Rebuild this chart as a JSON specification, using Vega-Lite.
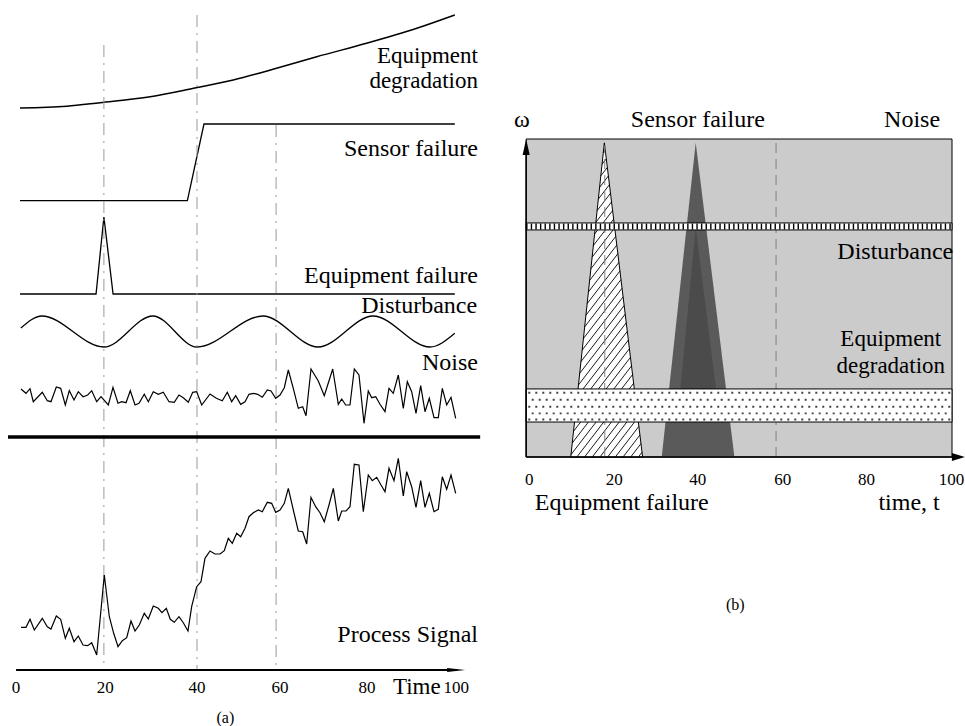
{
 "$schema": "https://vega.github.io/schema/vega-lite/v6.json",
 "padding": 0,
 "spacing": 0,
 "bounds": "flush",
 "background": "white",
 "config": {"view": {"stroke": null}, "text": {"font": "Liberation Serif", "fontSize": 24, "fill": "black"}},
 "datasets": {
  "deg": [{"t":0,"v":0},{"t":10.7,"v":1.7},{"t":18.3,"v":5.3},{"t":29.8,"v":11.3},{"t":39.7,"v":19.7},{"t":48.8,"v":28},{"t":58.7,"v":39.7},{"t":67.9,"v":51.3},{"t":79.3,"v":64.7},{"t":90.8,"v":79.7},{"t":99.5,"v":93}],
  "sensor": [{"t":0,"v":0},{"t":38.3,"v":0},{"t":42.1,"v":1},{"t":99.5,"v":1}],
  "efail": [{"t":0,"v":0},{"t":17.4,"v":0},{"t":19.2,"v":1},{"t":21.3,"v":0},{"t":99.5,"v":0}],
  "dist": [{"t":0.2,"v":3.5},{"t":5.0,"v":15.5},{"t":19.2,"v":-15.5},{"t":30.4,"v":15.5},{"t":40.5,"v":-15.5},{"t":55.6,"v":15.5},{"t":68.2,"v":-15.5},{"t":80.8,"v":15.5},{"t":93.8,"v":-15.5},{"t":99.5,"v":-1.8}],
  "noise": [{"t":0.23,"v":8},{"t":1.37,"v":3.7},{"t":2.29,"v":8.3},{"t":3.04,"v":-4.7},{"t":5.1,"v":4.7},{"t":6.25,"v":-3.7},{"t":7.09,"v":-4.7},{"t":8.31,"v":10},{"t":9.31,"v":8.7},{"t":10.37,"v":-8},{"t":11.28,"v":6.3},{"t":12.36,"v":-3},{"t":13.34,"v":5.3},{"t":14.42,"v":0.3},{"t":15.49,"v":2},{"t":16.41,"v":6.3},{"t":17.55,"v":-4.7},{"t":18.54,"v":0.3},{"t":20.21,"v":-8},{"t":21.28,"v":9.7},{"t":22.43,"v":-6.3},{"t":23.27,"v":-4.7},{"t":24.26,"v":-5.7},{"t":25.24,"v":6.3},{"t":26.32,"v":-8},{"t":27.23,"v":-6.3},{"t":28.44,"v":2.7},{"t":29.36,"v":-4.7},{"t":30.5,"v":5.3},{"t":31.65,"v":2.7},{"t":32.79,"v":4.7},{"t":34.1,"v":-4.7},{"t":35.3,"v":-5.3},{"t":36.38,"v":2},{"t":37.37,"v":-0.7},{"t":38.51,"v":-5.3},{"t":39.52,"v":4.7},{"t":40.43,"v":5.3},{"t":41.58,"v":-8},{"t":43.48,"v":3},{"t":44.92,"v":-1.3},{"t":46.29,"v":-3.7},{"t":47.44,"v":4.7},{"t":48.44,"v":-4.7},{"t":49.36,"v":1.3},{"t":50.5,"v":-7.3},{"t":51.49,"v":-4.7},{"t":52.4,"v":2.7},{"t":53.39,"v":3.7},{"t":54.39,"v":2.7},{"t":55.45,"v":-0.3},{"t":56.59,"v":7},{"t":57.44,"v":6},{"t":58.51,"v":-1.3},{"t":59.5,"v":2},{"t":60.48,"v":9.3},{"t":61.4,"v":27},{"t":62.54,"v":8.7},{"t":63.68,"v":-11.3},{"t":64.69,"v":-9.7},{"t":65.45,"v":-18.7},{"t":66.59,"v":28},{"t":68.26,"v":16},{"t":69.63,"v":1.3},{"t":71.56,"v":28},{"t":72.84,"v":-7.3},{"t":73.62,"v":-2},{"t":74.53,"v":-8},{"t":75.51,"v":-8},{"t":76.5,"v":28},{"t":77.57,"v":22},{"t":78.72,"v":-26.3},{"t":79.7,"v":6},{"t":80.48,"v":-0.7},{"t":81.4,"v":0.3},{"t":82.38,"v":-7.3},{"t":83.52,"v":-14.7},{"t":84.44,"v":8.7},{"t":85.42,"v":3.7},{"t":86.57,"v":22},{"t":87.71,"v":-11.3},{"t":88.63,"v":15.3},{"t":89.63,"v":5.3},{"t":90.62,"v":-16.3},{"t":91.69,"v":11.3},{"t":92.68,"v":-14.7},{"t":93.66,"v":-1.3},{"t":94.74,"v":-20.7},{"t":95.72,"v":-20.7},{"t":96.64,"v":8.7},{"t":97.64,"v":-8},{"t":98.63,"v":-0.3},{"t":99.7,"v":-21.3}],
  "proc": [{"t":0.23,"v":42.7},{"t":1.37,"v":42.7},{"t":2.29,"v":50.7},{"t":3.28,"v":40},{"t":5.1,"v":51.7},{"t":6.25,"v":43.3},{"t":7.09,"v":41},{"t":8.31,"v":54},{"t":9.31,"v":50.7},{"t":10.37,"v":31.7},{"t":11.28,"v":41.7},{"t":12.36,"v":28.3},{"t":13.34,"v":34},{"t":14.42,"v":25},{"t":15.49,"v":24.3},{"t":16.41,"v":27.3},{"t":17.55,"v":15},{"t":19.29,"v":95},{"t":20.44,"v":53.3},{"t":21.44,"v":36.7},{"t":22.43,"v":23.3},{"t":23.41,"v":29.3},{"t":24.42,"v":32.3},{"t":25.4,"v":49},{"t":26.32,"v":39},{"t":27.3,"v":45},{"t":28.44,"v":56.7},{"t":29.36,"v":51},{"t":30.5,"v":64},{"t":31.65,"v":61.7},{"t":32.49,"v":57.3},{"t":33.48,"v":61.7},{"t":34.39,"v":50.7},{"t":35.3,"v":47.7},{"t":36.38,"v":53.3},{"t":37.37,"v":47.3},{"t":38.44,"v":39},{"t":39.28,"v":63.3},{"t":40.43,"v":83.3},{"t":41.42,"v":88.3},{"t":42.33,"v":111.7},{"t":43.48,"v":119},{"t":44.62,"v":116},{"t":45.77,"v":116},{"t":46.75,"v":119.3},{"t":47.67,"v":131.7},{"t":48.58,"v":126.7},{"t":49.59,"v":136.7},{"t":50.5,"v":133.3},{"t":51.49,"v":141.7},{"t":52.4,"v":153.3},{"t":53.39,"v":157.3},{"t":54.53,"v":160},{"t":55.45,"v":158.3},{"t":56.59,"v":167.7},{"t":57.59,"v":166.7},{"t":58.51,"v":157.7},{"t":59.5,"v":160},{"t":60.48,"v":166.7},{"t":61.4,"v":181.7},{"t":62.54,"v":160},{"t":63.68,"v":139},{"t":64.69,"v":138.3},{"t":65.6,"v":126},{"t":66.59,"v":172.7},{"t":67.66,"v":163.3},{"t":68.65,"v":157.3},{"t":69.63,"v":148.3},{"t":70.71,"v":165},{"t":71.7,"v":181.7},{"t":72.84,"v":149},{"t":73.62,"v":159},{"t":74.6,"v":159},{"t":75.51,"v":163.3},{"t":76.5,"v":205.7},{"t":77.57,"v":205},{"t":78.56,"v":158.3},{"t":79.7,"v":195},{"t":80.62,"v":189.3},{"t":81.62,"v":192.7},{"t":82.61,"v":185},{"t":83.52,"v":178.3},{"t":84.44,"v":201.7},{"t":85.58,"v":189.3},{"t":86.57,"v":211.7},{"t":87.71,"v":174},{"t":88.49,"v":198.3},{"t":89.63,"v":183.3},{"t":90.62,"v":162.7},{"t":91.69,"v":189.3},{"t":92.68,"v":162.7},{"t":93.66,"v":176.7},{"t":94.74,"v":158.3},{"t":95.72,"v":160.7},{"t":96.64,"v":193.3},{"t":97.64,"v":180.7},{"t":98.63,"v":195},{"t":99.7,"v":176.7}],
  "hatch": [{"t1":17.94,"w1":95.69,"t2":18.40,"w2":96.50},{"t1":17.65,"w1":92.04,"t2":18.65,"w2":93.79},{"t1":17.36,"w1":88.39,"t2":18.90,"w2":91.07},{"t1":17.06,"w1":84.73,"t2":19.14,"w2":88.36},{"t1":16.77,"w1":81.08,"t2":19.39,"w2":85.64},{"t1":16.48,"w1":77.43,"t2":19.64,"w2":82.93},{"t1":16.19,"w1":73.78,"t2":19.89,"w2":80.22},{"t1":15.90,"w1":70.13,"t2":20.14,"w2":77.50},{"t1":15.60,"w1":66.47,"t2":20.38,"w2":74.79},{"t1":15.31,"w1":62.82,"t2":20.63,"w2":72.07},{"t1":15.02,"w1":59.17,"t2":20.88,"w2":69.36},{"t1":14.73,"w1":55.52,"t2":21.13,"w2":66.65},{"t1":14.43,"w1":51.87,"t2":21.38,"w2":63.93},{"t1":14.14,"w1":48.22,"t2":21.63,"w2":61.22},{"t1":13.85,"w1":44.56,"t2":21.87,"w2":58.50},{"t1":13.56,"w1":40.91,"t2":22.12,"w2":55.79},{"t1":13.27,"w1":37.26,"t2":22.37,"w2":53.08},{"t1":12.97,"w1":33.61,"t2":22.62,"w2":50.36},{"t1":12.68,"w1":29.96,"t2":22.87,"w2":47.65},{"t1":12.39,"w1":26.30,"t2":23.11,"w2":44.93},{"t1":12.10,"w1":22.65,"t2":23.36,"w2":42.22},{"t1":11.81,"w1":19.00,"t2":23.61,"w2":39.51},{"t1":11.51,"w1":15.35,"t2":23.86,"w2":36.79},{"t1":11.22,"w1":11.70,"t2":24.11,"w2":34.08},{"t1":10.93,"w1":8.04,"t2":24.35,"w2":31.36},{"t1":10.64,"w1":4.39,"t2":24.60,"w2":28.65},{"t1":10.35,"w1":0.74,"t2":24.85,"w2":25.94},{"t1":11.73,"w1":0,"t2":25.10,"w2":23.22},{"t1":13.54,"w1":0,"t2":25.35,"w2":20.51},{"t1":15.35,"w1":0,"t2":25.59,"w2":17.79},{"t1":17.16,"w1":0,"t2":25.84,"w2":15.08},{"t1":18.97,"w1":0,"t2":26.09,"w2":12.37},{"t1":20.78,"w1":0,"t2":26.34,"w2":9.65},{"t1":22.59,"w1":0,"t2":26.59,"w2":6.94},{"t1":24.40,"w1":0,"t2":26.83,"w2":4.22},{"t1":26.21,"w1":0,"t2":27.08,"w2":1.51}]
 },
 "hconcat": [
  {
   "width": 490, "height": 726,
   "resolve": {"scale": {"y": "independent"}},
   "layer": [
    {"layer": [
      {"data": {"name": "deg"}, "mark": {"type": "line", "interpolate": "monotone", "strokeWidth": 1.5, "color": "black"},
       "encoding": {"x": {"field": "t", "type": "quantitative", "scale": {"domain": [0,100], "range": [20,457], "nice": false, "zero": false}, "axis": null},
                    "y": {"field": "v", "type": "quantitative", "scale": {"domain": [0,100], "range": [108,8], "nice": false, "zero": false}, "axis": null}}},
      {"data": {"values": [{"t": 104.8, "v": 45.5, "label": "Equipment"}, {"t": 104.8, "v": 20.5, "label": "degradation"}]},
       "mark": {"type": "text", "align": "right", "baseline": "alphabetic", "font": "Liberation Serif", "fontSize": 23},
       "encoding": {"x": {"field": "t", "type": "quantitative", "scale": {"domain": [0,100], "range": [20,457], "nice": false, "zero": false}, "axis": null},
                    "y": {"field": "v", "type": "quantitative", "scale": {"domain": [0,100], "range": [108,8], "nice": false, "zero": false}, "axis": null},
                    "text": {"field": "label"}}}
    ]},
    {"layer": [
      {"data": {"name": "sensor"}, "mark": {"type": "line", "strokeWidth": 1.3, "color": "black"},
       "encoding": {"x": {"field": "t", "type": "quantitative", "scale": {"domain": [0,100], "range": [20,457], "nice": false, "zero": false}, "axis": null},
                    "y": {"field": "v", "type": "quantitative", "scale": {"domain": [0,1], "range": [200.7,124], "nice": false, "zero": false}, "axis": null}}},
      {"data": {"values": [{"t": 104.8, "v": 0.583, "label": "Sensor failure"}]},
       "mark": {"type": "text", "align": "right", "baseline": "alphabetic", "font": "Liberation Serif", "fontSize": 24},
       "encoding": {"x": {"field": "t", "type": "quantitative", "scale": {"domain": [0,100], "range": [20,457], "nice": false, "zero": false}, "axis": null},
                    "y": {"field": "v", "type": "quantitative", "scale": {"domain": [0,1], "range": [200.7,124], "nice": false, "zero": false}, "axis": null},
                    "text": {"field": "label"}}}
    ]},
    {"layer": [
      {"data": {"name": "efail"}, "mark": {"type": "line", "strokeWidth": 1.3, "color": "black"},
       "encoding": {"x": {"field": "t", "type": "quantitative", "scale": {"domain": [0,100], "range": [20,457], "nice": false, "zero": false}, "axis": null},
                    "y": {"field": "v", "type": "quantitative", "scale": {"domain": [0,1], "range": [294,217], "nice": false, "zero": false}, "axis": null}}},
      {"data": {"values": [{"t": 104.8, "v": 0.147, "label": "Equipment failure"}]},
       "mark": {"type": "text", "align": "right", "baseline": "alphabetic", "font": "Liberation Serif", "fontSize": 24},
       "encoding": {"x": {"field": "t", "type": "quantitative", "scale": {"domain": [0,100], "range": [20,457], "nice": false, "zero": false}, "axis": null},
                    "y": {"field": "v", "type": "quantitative", "scale": {"domain": [0,1], "range": [294,217], "nice": false, "zero": false}, "axis": null},
                    "text": {"field": "label"}}}
    ]},
    {"layer": [
      {"data": {"name": "dist"}, "mark": {"type": "line", "interpolate": "monotone", "strokeWidth": 1.3, "color": "black"},
       "encoding": {"x": {"field": "t", "type": "quantitative", "scale": {"domain": [0,100], "range": [20,457], "nice": false, "zero": false}, "axis": null},
                    "y": {"field": "v", "type": "quantitative", "scale": {"domain": [-40,40], "range": [371.5,291.5], "nice": false, "zero": false}, "axis": null}}},
      {"data": {"values": [{"t": 104.6, "v": 18.2, "label": "Disturbance"}]},
       "mark": {"type": "text", "align": "right", "baseline": "alphabetic", "font": "Liberation Serif", "fontSize": 24},
       "encoding": {"x": {"field": "t", "type": "quantitative", "scale": {"domain": [0,100], "range": [20,457], "nice": false, "zero": false}, "axis": null},
                    "y": {"field": "v", "type": "quantitative", "scale": {"domain": [-40,40], "range": [371.5,291.5], "nice": false, "zero": false}, "axis": null},
                    "text": {"field": "label"}}}
    ]},
    {"layer": [
      {"data": {"name": "noise"}, "mark": {"type": "line", "strokeWidth": 1.2, "color": "black"},
       "encoding": {"x": {"field": "t", "type": "quantitative", "scale": {"domain": [0,100], "range": [20,457], "nice": false, "zero": false}, "axis": null},
                    "y": {"field": "v", "type": "quantitative", "scale": {"domain": [-40,40], "range": [437,357], "nice": false, "zero": false}, "axis": null}}},
      {"data": {"values": [{"t": 104.8, "v": 27, "label": "Noise"}]},
       "mark": {"type": "text", "align": "right", "baseline": "alphabetic", "font": "Liberation Serif", "fontSize": 24},
       "encoding": {"x": {"field": "t", "type": "quantitative", "scale": {"domain": [0,100], "range": [20,457], "nice": false, "zero": false}, "axis": null},
                    "y": {"field": "v", "type": "quantitative", "scale": {"domain": [-40,40], "range": [437,357], "nice": false, "zero": false}, "axis": null},
                    "text": {"field": "label"}}}
    ]},
    {"layer": [
      {"data": {"values": [{"t": 19.2, "top": 625, "bot": 0}, {"t": 40.5, "top": 655, "bot": 0}, {"t": 58.6, "top": 545, "bot": 0}]},
       "mark": {"type": "rule", "color": "#999999", "strokeWidth": 1, "strokeDash": [12, 6, 2, 6]},
       "encoding": {"x": {"field": "t", "type": "quantitative", "scale": {"domain": [0,100], "range": [20,457], "nice": false, "zero": false}, "axis": null},
                    "y": {"field": "top", "type": "quantitative", "scale": {"domain": [0,670], "range": [670,0], "nice": false, "zero": false}, "axis": null},
                    "y2": {"field": "bot"}}},
      {"data": {"values": [{"t": -2.75, "t2": 105.3, "v": 233}]},
       "mark": {"type": "rule", "color": "black", "strokeWidth": 3.5},
       "encoding": {"x": {"field": "t", "type": "quantitative", "scale": {"domain": [0,100], "range": [20,457], "nice": false, "zero": false}, "axis": null},
                    "x2": {"field": "t2"},
                    "y": {"field": "v", "type": "quantitative", "scale": {"domain": [0,670], "range": [670,0], "nice": false, "zero": false}, "axis": null}}},
      {"data": {"name": "proc"}, "mark": {"type": "line", "strokeWidth": 1.2, "color": "black"},
       "encoding": {"x": {"field": "t", "type": "quantitative", "scale": {"domain": [0,100], "range": [20,457], "nice": false, "zero": false}, "axis": null},
                    "y": {"field": "v", "type": "quantitative", "scale": {"domain": [0,670], "range": [670,0], "nice": false, "zero": false}, "axis": null}}},
      {"data": {"values": [{"t": -0.9, "t2": 100, "v": 0}]},
       "mark": {"type": "rule", "color": "black", "strokeWidth": 2},
       "encoding": {"x": {"field": "t", "type": "quantitative", "scale": {"domain": [0,100], "range": [20,457], "nice": false, "zero": false}, "axis": null},
                    "x2": {"field": "t2"},
                    "y": {"field": "v", "type": "quantitative", "scale": {"domain": [0,670], "range": [670,0], "nice": false, "zero": false}, "axis": null}}},
      {"data": {"values": [{"t": 99.8, "v": 0}]},
       "mark": {"type": "point", "shape": "M-1,-0.22L1,0L-1,0.22Z", "size": 324, "filled": true, "fill": "black", "opacity": 1, "strokeWidth": 0},
       "encoding": {"x": {"field": "t", "type": "quantitative", "scale": {"domain": [0,100], "range": [20,457], "nice": false, "zero": false}, "axis": null},
                    "y": {"field": "v", "type": "quantitative", "scale": {"domain": [0,670], "range": [670,0], "nice": false, "zero": false}, "axis": null}}},
      {"data": {"values": [{"t": -0.9, "v": -23.3, "label": "0"}, {"t": 19.5, "v": -23.3, "label": "20"}, {"t": 40.5, "v": -23.3, "label": "40"}, {"t": 59.5, "v": -23.3, "label": "60"}, {"t": 79.4, "v": -23.3, "label": "80"}, {"t": 99.8, "v": -23.3, "label": "100"}]},
       "mark": {"type": "text", "align": "center", "baseline": "alphabetic", "fontSize": 17, "font": "Liberation Serif"},
       "encoding": {"x": {"field": "t", "type": "quantitative", "scale": {"domain": [0,100], "range": [20,457], "nice": false, "zero": false}, "axis": null},
                    "y": {"field": "v", "type": "quantitative", "scale": {"domain": [0,670], "range": [670,0], "nice": false, "zero": false}, "axis": null},
                    "text": {"field": "label"}}},
      {"data": {"values": [{"t": 90.8, "v": -24, "label": "Time"}]},
       "mark": {"type": "text", "align": "center", "baseline": "alphabetic", "fontSize": 23, "font": "Liberation Serif"},
       "encoding": {"x": {"field": "t", "type": "quantitative", "scale": {"domain": [0,100], "range": [20,457], "nice": false, "zero": false}, "axis": null},
                    "y": {"field": "v", "type": "quantitative", "scale": {"domain": [0,670], "range": [670,0], "nice": false, "zero": false}, "axis": null},
                    "text": {"field": "label"}}},
      {"data": {"values": [{"t": 47, "v": -52.5, "label": "(a)"}]},
       "mark": {"type": "text", "align": "center", "baseline": "alphabetic", "fontSize": 16, "font": "Liberation Serif"},
       "encoding": {"x": {"field": "t", "type": "quantitative", "scale": {"domain": [0,100], "range": [20,457], "nice": false, "zero": false}, "axis": null},
                    "y": {"field": "v", "type": "quantitative", "scale": {"domain": [0,670], "range": [670,0], "nice": false, "zero": false}, "axis": null},
                    "text": {"field": "label"}}},
      {"data": {"values": [{"t": 104.8, "v": 28.3, "label": "Process Signal"}]},
       "mark": {"type": "text", "align": "right", "baseline": "alphabetic", "font": "Liberation Serif", "fontSize": 24},
       "encoding": {"x": {"field": "t", "type": "quantitative", "scale": {"domain": [0,100], "range": [20,457], "nice": false, "zero": false}, "axis": null},
                    "y": {"field": "v", "type": "quantitative", "scale": {"domain": [0,670], "range": [670,0], "nice": false, "zero": false}, "axis": null},
                    "text": {"field": "label"}}}
    ]}
   ]
  },
  {
   "width": 475, "height": 726,
   "layer": [
    {"data": {"values": [{"t": -0.2, "t2": 100, "w": 0, "w2": 100}]},
     "mark": {"type": "rect", "fill": "#cbcbcb", "stroke": "black", "strokeWidth": 1},
     "encoding": {"x": {"field": "t", "type": "quantitative", "scale": {"domain": [0,100], "range": [37,462], "nice": false, "zero": false}, "axis": null}, "x2": {"field": "t2"},
                  "y": {"field": "w", "type": "quantitative", "scale": {"domain": [0,100], "range": [457,139], "nice": false, "zero": false}, "axis": null}, "y2": {"field": "w2"}}},
    {"data": {"values": [{"t": 10.3, "w": 0}, {"t": 18.2, "w": 98.8}, {"t": 27.2, "w": 0}]},
     "mark": {"type": "area", "fill": "white", "stroke": "black", "strokeWidth": 1, "opacity": 1},
     "encoding": {"x": {"field": "t", "type": "quantitative", "scale": {"domain": [0,100], "range": [37,462], "nice": false, "zero": false}, "axis": null},
                  "y": {"field": "w", "type": "quantitative", "scale": {"domain": [0,100], "range": [457,139], "nice": false, "zero": false}, "axis": null}}},
    {"data": {"name": "hatch"},
     "mark": {"type": "rule", "color": "black", "strokeWidth": 0.9},
     "encoding": {"x": {"field": "t1", "type": "quantitative", "scale": {"domain": [0,100], "range": [37,462], "nice": false, "zero": false}, "axis": null}, "x2": {"field": "t2"},
                  "y": {"field": "w1", "type": "quantitative", "scale": {"domain": [0,100], "range": [457,139], "nice": false, "zero": false}, "axis": null}, "y2": {"field": "w2"}}},
    {"data": {"values": [{"t": 31.7, "w": 0}, {"t": 39.7, "w": 98.8}, {"t": 48.8, "w": 0}]},
     "mark": {"type": "area", "fill": "#5a5a5a", "opacity": 1},
     "encoding": {"x": {"field": "t", "type": "quantitative", "scale": {"domain": [0,100], "range": [37,462], "nice": false, "zero": false}, "axis": null},
                  "y": {"field": "w", "type": "quantitative", "scale": {"domain": [0,100], "range": [457,139], "nice": false, "zero": false}, "axis": null}}},
    {"data": {"values": [{"t": 36.0, "w": 20}, {"t": 39.7, "w": 72}, {"t": 44.6, "w": 20}]},
     "mark": {"type": "area", "fill": "#3c3c3c", "opacity": 0.5},
     "encoding": {"x": {"field": "t", "type": "quantitative", "scale": {"domain": [0,100], "range": [37,462], "nice": false, "zero": false}, "axis": null},
                  "y": {"field": "w", "type": "quantitative", "scale": {"domain": [0,100], "range": [457,139], "nice": false, "zero": false}, "axis": null},
                  "y2": {"datum": 20}}},
    {"data": {"values": [{"t": 58.6, "w": 0, "w2": 100}, {"t": 18.3, "w": 0, "w2": 98}]},
     "mark": {"type": "rule", "color": "#808080", "strokeWidth": 1, "strokeDash": [10, 6]},
     "encoding": {"x": {"field": "t", "type": "quantitative", "scale": {"domain": [0,100], "range": [37,462], "nice": false, "zero": false}, "axis": null},
                  "y": {"field": "w", "type": "quantitative", "scale": {"domain": [0,100], "range": [457,139], "nice": false, "zero": false}, "axis": null}, "y2": {"field": "w2"}}},
    {"data": {"values": [{"t": -0.2, "t2": 100, "w": 71.4, "w2": 73.6}, {"t": -0.2, "t2": 100, "w": 11.0, "w2": 21.4}]},
     "mark": {"type": "rect", "fill": "white", "stroke": "black", "strokeWidth": 1},
     "encoding": {"x": {"field": "t", "type": "quantitative", "scale": {"domain": [0,100], "range": [37,462], "nice": false, "zero": false}, "axis": null}, "x2": {"field": "t2"},
                  "y": {"field": "w", "type": "quantitative", "scale": {"domain": [0,100], "range": [457,139], "nice": false, "zero": false}, "axis": null}, "y2": {"field": "w2"}}},
    {"data": {"values": [{"t": -0.2, "t2": 100, "w": 72.5}]},
     "mark": {"type": "rule", "color": "black", "strokeWidth": 6, "strokeDash": [1.4, 3.2]},
     "encoding": {"x": {"field": "t", "type": "quantitative", "scale": {"domain": [0,100], "range": [37,462], "nice": false, "zero": false}, "axis": null}, "x2": {"field": "t2"},
                  "y": {"field": "w", "type": "quantitative", "scale": {"domain": [0,100], "range": [457,139], "nice": false, "zero": false}, "axis": null}}},
    {"data": {"values": [{"t": 0.3, "t2": 100, "w": 20.2}, {"t": 1.1, "t2": 100, "w": 18.0}, {"t": 0.3, "t2": 100, "w": 15.8}, {"t": 1.1, "t2": 100, "w": 13.7}, {"t": 0.3, "t2": 100, "w": 11.8}]},
     "mark": {"type": "rule", "color": "#444444", "strokeWidth": 1.8, "strokeDash": [2, 5]},
     "encoding": {"x": {"field": "t", "type": "quantitative", "scale": {"domain": [0,100], "range": [37,462], "nice": false, "zero": false}, "axis": null}, "x2": {"field": "t2"},
                  "y": {"field": "w", "type": "quantitative", "scale": {"domain": [0,100], "range": [457,139], "nice": false, "zero": false}, "axis": null}}},
    {"data": {"values": [{"t": -0.2, "w": 0, "w2": 96}]},
     "mark": {"type": "rule", "color": "black", "strokeWidth": 1.5},
     "encoding": {"x": {"field": "t", "type": "quantitative", "scale": {"domain": [0,100], "range": [37,462], "nice": false, "zero": false}, "axis": null},
                  "y": {"field": "w", "type": "quantitative", "scale": {"domain": [0,100], "range": [457,139], "nice": false, "zero": false}, "axis": null}, "y2": {"field": "w2"}}},
    {"data": {"values": [{"t": -0.2, "t2": 100, "w": 0}]},
     "mark": {"type": "rule", "color": "black", "strokeWidth": 1.5},
     "encoding": {"x": {"field": "t", "type": "quantitative", "scale": {"domain": [0,100], "range": [37,462], "nice": false, "zero": false}, "axis": null}, "x2": {"field": "t2"},
                  "y": {"field": "w", "type": "quantitative", "scale": {"domain": [0,100], "range": [457,139], "nice": false, "zero": false}, "axis": null}}},
    {"data": {"values": [{"t": -0.2, "w": 97.5}]},
     "mark": {"type": "point", "shape": "M0,-1L0.44,1L-0.44,1Z", "size": 256, "filled": true, "fill": "black", "opacity": 1, "strokeWidth": 0},
     "encoding": {"x": {"field": "t", "type": "quantitative", "scale": {"domain": [0,100], "range": [37,462], "nice": false, "zero": false}, "axis": null},
                  "y": {"field": "w", "type": "quantitative", "scale": {"domain": [0,100], "range": [457,139], "nice": false, "zero": false}, "axis": null}}},
    {"data": {"values": [{"t": 101.5, "w": 0}]},
     "mark": {"type": "point", "shape": "M-1,-0.6L1,0L-1,0.6Z", "size": 169, "filled": true, "fill": "black", "opacity": 1, "strokeWidth": 0},
     "encoding": {"x": {"field": "t", "type": "quantitative", "scale": {"domain": [0,100], "range": [37,462], "nice": false, "zero": false}, "axis": null},
                  "y": {"field": "w", "type": "quantitative", "scale": {"domain": [0,100], "range": [457,139], "nice": false, "zero": false}, "axis": null}}},
    {"data": {"values": [{"t": -1.2, "w": 103.7, "label": "ω"}, {"t": 40.2, "w": 103.7, "label": "Sensor failure"}, {"t": 90.6, "w": 103.7, "label": "Noise"}, {"t": 22.3, "w": -16.7, "label": "Equipment failure"}, {"t": 89.9, "w": -16.7, "label": "time, t"}]},
     "mark": {"type": "text", "align": "center", "baseline": "alphabetic", "font": "Liberation Serif", "fontSize": 24},
     "encoding": {"x": {"field": "t", "type": "quantitative", "scale": {"domain": [0,100], "range": [37,462], "nice": false, "zero": false}, "axis": null},
                  "y": {"field": "w", "type": "quantitative", "scale": {"domain": [0,100], "range": [457,139], "nice": false, "zero": false}, "axis": null},
                  "text": {"field": "label"}}},
    {"data": {"values": [{"t": 85.6, "w": 34.8, "label": "Equipment"}, {"t": 85.6, "w": 26.5, "label": "degradation"}]},
     "mark": {"type": "text", "align": "center", "baseline": "alphabetic", "font": "Liberation Serif", "fontSize": 23},
     "encoding": {"x": {"field": "t", "type": "quantitative", "scale": {"domain": [0,100], "range": [37,462], "nice": false, "zero": false}, "axis": null},
                  "y": {"field": "w", "type": "quantitative", "scale": {"domain": [0,100], "range": [457,139], "nice": false, "zero": false}, "axis": null},
                  "text": {"field": "label"}}},
    {"data": {"values": [{"t": 100.3, "w": 62.2, "label": "Disturbance"}]},
     "mark": {"type": "text", "align": "right", "baseline": "alphabetic", "font": "Liberation Serif", "fontSize": 24},
     "encoding": {"x": {"field": "t", "type": "quantitative", "scale": {"domain": [0,100], "range": [37,462], "nice": false, "zero": false}, "axis": null},
                  "y": {"field": "w", "type": "quantitative", "scale": {"domain": [0,100], "range": [457,139], "nice": false, "zero": false}, "axis": null},
                  "text": {"field": "label"}}},
    {"data": {"values": [{"t": 0.5, "w": -8.8, "label": "0"}, {"t": 20.5, "w": -8.8, "label": "20"}, {"t": 40.2, "w": -8.8, "label": "40"}, {"t": 60.2, "w": -8.8, "label": "60"}, {"t": 79.9, "w": -8.8, "label": "80"}, {"t": 99.9, "w": -8.8, "label": "100"}]},
     "mark": {"type": "text", "align": "center", "baseline": "alphabetic", "fontSize": 17, "font": "Liberation Serif"},
     "encoding": {"x": {"field": "t", "type": "quantitative", "scale": {"domain": [0,100], "range": [37,462], "nice": false, "zero": false}, "axis": null},
                  "y": {"field": "w", "type": "quantitative", "scale": {"domain": [0,100], "range": [457,139], "nice": false, "zero": false}, "axis": null},
                  "text": {"field": "label"}}},
    {"data": {"values": [{"t": 49, "w": -48.1, "label": "(b)"}]},
     "mark": {"type": "text", "align": "center", "baseline": "alphabetic", "fontSize": 16, "font": "Liberation Serif"},
     "encoding": {"x": {"field": "t", "type": "quantitative", "scale": {"domain": [0,100], "range": [37,462], "nice": false, "zero": false}, "axis": null},
                  "y": {"field": "w", "type": "quantitative", "scale": {"domain": [0,100], "range": [457,139], "nice": false, "zero": false}, "axis": null},
                  "text": {"field": "label"}}}
   ]
  }
 ]
}
